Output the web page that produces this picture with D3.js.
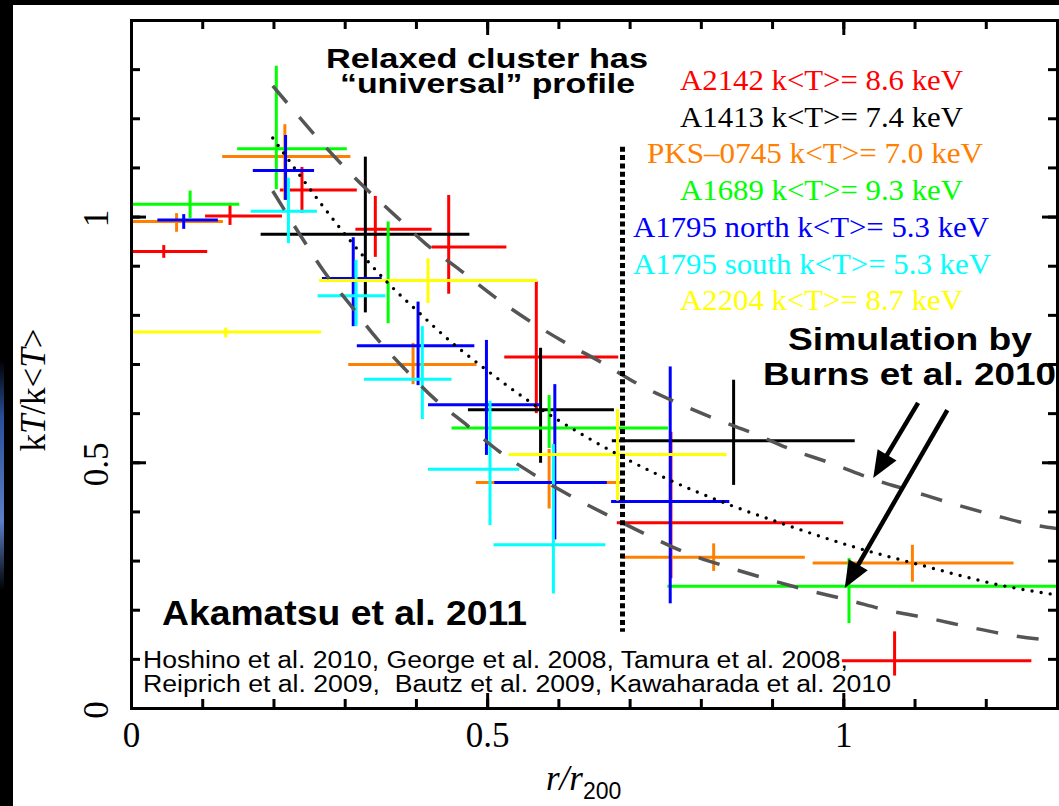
<!DOCTYPE html>
<html><head><meta charset="utf-8">
<script src="https://cdn.jsdelivr.net/npm/d3@7"></script>
<style>
html,body{margin:0;padding:0;background:#fff;}
svg{display:block;}
</style></head><body>
<svg id="chart" width="1059" height="806"></svg>
<script>
// ---- cluster list ----
const clusterNames = ["A2142", "A1413", "PKS\u20130745", "A1689", "A1795 north", "A1795 south", "A2204"];
const meanKT = ["8.6", "7.4", "7.0", "9.3", "5.3", "5.3", "8.7"];
const clusterColors = ["#ff0000", "#000000", "#ff8000", "#00ff00", "#0000ff", "#00ffff", "#ffff00"];

// ---- temperature profiles: [r, rLow, rHigh, T, TLow, THigh] (r in r200, T in <T>) ----
const a2142 = [
  [0.046, 0.000, 0.107, 0.929, 0.916, 0.942],
  [0.139, 0.104, 0.212, 1.001, 0.983, 1.026],
  [0.240, 0.209, 0.317, 1.054, 1.008, 1.101],
  [0.343, 0.315, 0.422, 0.974, 0.918, 1.042],
  [0.446, 0.422, 0.527, 0.938, 0.843, 1.044],
  [0.569, 0.524, 0.684, 0.714, 0.600, 0.868],
  [0.758, 0.682, 1.000, 0.377, 0.264, 0.562],
  [1.072, 0.998, 1.264, 0.096, 0.066, 0.156]
];
const a1413 = [
  [0.329, 0.182, 0.475, 0.964, 0.805, 1.122],
  [0.575, 0.473, 0.678, 0.607, 0.499, 0.733],
  [0.846, 0.675, 1.016, 0.544, 0.454, 0.668]
];
const pks0745 = [
  [0.064, 0.000, 0.129, 0.990, 0.969, 1.007],
  [0.216, 0.128, 0.308, 1.122, 1.034, 1.188],
  [0.396, 0.305, 0.485, 0.699, 0.659, 0.743],
  [0.587, 0.484, 0.690, 0.459, 0.406, 0.527],
  [0.818, 0.689, 0.946, 0.307, 0.279, 0.335],
  [1.097, 0.957, 1.239, 0.295, 0.257, 0.332]
];
const a1689 = [
  [0.083, 0.000, 0.152, 1.025, 0.997, 1.053],
  [0.204, 0.149, 0.303, 1.138, 1.056, 1.307],
  [0.361, 0.300, 0.460, 0.870, 0.783, 0.990],
  [0.587, 0.450, 0.754, 0.570, 0.529, 0.637],
  [1.008, 0.753, 1.300, 0.248, 0.173, 0.305]
];
const a1795n = [
  [0.074, 0.037, 0.122, 0.993, 0.975, 1.005],
  [0.217, 0.171, 0.257, 1.094, 1.034, 1.166],
  [0.312, 0.268, 0.352, 0.874, 0.777, 0.958],
  [0.403, 0.317, 0.482, 0.737, 0.657, 0.827],
  [0.499, 0.417, 0.574, 0.617, 0.515, 0.749],
  [0.595, 0.510, 0.668, 0.459, 0.343, 0.659],
  [0.757, 0.674, 0.840, 0.420, 0.213, 0.695]
];
const a1795s = [
  [0.221, 0.168, 0.261, 1.011, 0.946, 1.079],
  [0.316, 0.262, 0.357, 0.839, 0.777, 0.912],
  [0.409, 0.327, 0.450, 0.669, 0.588, 0.777],
  [0.504, 0.417, 0.545, 0.486, 0.372, 0.625],
  [0.593, 0.509, 0.666, 0.332, 0.233, 0.537]
];
const a2204 = [
  [0.133, 0.000, 0.267, 0.765, 0.754, 0.774],
  [0.417, 0.264, 0.570, 0.870, 0.824, 0.915],
  [0.683, 0.530, 0.836, 0.516, 0.422, 0.608]
];
const profiles = [a2142, a1413, pks0745, a1689, a1795n, a1795s, a2204];

// ---- universal model profile (dotted) ----
const modelR = [0.199, 0.291, 0.310, 0.360, 0.401, 0.451, 0.490, 0.560, 0.640, 0.682, 0.794, 0.841, 0.911, 1.019, 1.098, 1.234, 1.300];
const modelT = [1.160, 0.981, 0.947, 0.866, 0.809, 0.743, 0.698, 0.623, 0.551, 0.517, 0.440, 0.413, 0.377, 0.326, 0.295, 0.246, 0.230];

// ---- simulated envelope (dashed), Burns et al. 2010 ----
const simUpperR = [0.199, 0.298, 0.329, 0.371, 0.415, 0.462, 0.510, 0.559, 0.609, 0.662, 0.712, 0.767, 0.821, 0.875, 0.929, 0.985, 1.041, 1.097, 1.153, 1.210, 1.269, 1.300];
const simUpperT = [1.266, 1.103, 1.058, 1.002, 0.943, 0.891, 0.837, 0.788, 0.744, 0.702, 0.659, 0.621, 0.588, 0.558, 0.525, 0.497, 0.466, 0.441, 0.416, 0.393, 0.372, 0.365];
const simLowerR = [0.199, 0.239, 0.271, 0.308, 0.345, 0.385, 0.427, 0.472, 0.517, 0.569, 0.618, 0.671, 0.722, 0.779, 0.835, 0.892, 0.949, 1.006, 1.064, 1.122, 1.182, 1.240, 1.300];
const simLowerT = [1.052, 0.959, 0.888, 0.820, 0.752, 0.689, 0.628, 0.575, 0.522, 0.472, 0.431, 0.391, 0.354, 0.316, 0.288, 0.263, 0.240, 0.220, 0.198, 0.182, 0.163, 0.147, 0.136];

// boundary marker and annotation arrows (data units)
const boundaryR = 0.69, boundaryT = [0.155, 1.142];
const arrowFrom = [[1.105, 0.621], [1.146, 0.606]];
const arrowTo   = [[1.042, 0.468], [1.002, 0.244]];

// ---- axes ----
const xDomain = [0, 1.3], yDomain = [0, 1.4];
const xMajorTicks = [0, 0.5, 1], xTickLabels = ["0", "0.5", "1"];
const yMajorTicks = [0, 0.5, 1], yTickLabels = ["0", "0.5", "1"];
const xMinorTicks = d3.range(0, 14).map(i => +(i * 0.1).toFixed(1));
const yMinorTicks = d3.range(0, 15).map(i => +(i * 0.1).toFixed(1));

const svg = d3.select("#chart");
const W = 1059, H = 806;
const frame = {l: 131, r: 1057, t: 20, b: 708};
const x = d3.scaleLinear().domain(xDomain).range([frame.l, frame.r]);
const y = d3.scaleLinear().domain(yDomain).range([frame.b, frame.t]);

const serif = "'Liberation Serif','Times New Roman',Times,serif";
const sans = "'Liberation Sans',Arial,Helvetica,sans-serif";

svg.append("rect").attr("width", W).attr("height", H).attr("fill", "#fff");

// dark slide margins
svg.append("rect").attr("x", 0).attr("y", 0).attr("width", W).attr("height", 5).attr("fill", "#000");
svg.append("rect").attr("x", 0).attr("y", 0).attr("width", 13).attr("height", H).attr("fill", "#000");
const grad = svg.append("defs").append("linearGradient").attr("id", "glow").attr("x1", 0).attr("x2", 0).attr("y1", 0).attr("y2", 1);
grad.append("stop").attr("offset", "0%").attr("stop-color", "#000");
grad.append("stop").attr("offset", "25%").attr("stop-color", "#2a4f9a");
grad.append("stop").attr("offset", "70%").attr("stop-color", "#5b80c8");
grad.append("stop").attr("offset", "100%").attr("stop-color", "#000");
svg.append("rect").attr("x", 0).attr("y", 360).attr("width", 4).attr("height", 230).attr("fill", "url(#glow)");

// ---- error crosses ----
const plot = svg.append("g");
profiles.forEach((pts, i) => {
  const g = plot.append("g").attr("stroke", clusterColors[i]).attr("stroke-width", 3).attr("fill", "none");
  g.selectAll("line.h").data(pts).join("line").attr("class", "h")
    .attr("x1", d => x(d[1])).attr("x2", d => x(d[2]))
    .attr("y1", d => y(d[3])).attr("y2", d => y(d[3]));
  g.selectAll("line.v").data(pts).join("line").attr("class", "v")
    .attr("x1", d => x(d[0])).attr("x2", d => x(d[0]))
    .attr("y1", d => y(d[4])).attr("y2", d => y(d[5]));
});

// ---- curves ----
const line = d3.line().x(d => x(d[0])).y(d => y(d[1])).curve(d3.curveMonotoneX);
const zip = (a, b) => a.map((v, i) => [v, b[i]]);
[[simUpperR, simUpperT], [simLowerR, simLowerT]].forEach(([r, t]) => {
  plot.append("path").attr("d", line(zip(r, t)))
    .attr("fill", "none").attr("stroke", "#555").attr("stroke-width", 3.5)
    .attr("stroke-dasharray", "22 19");
});
plot.append("path").attr("d", line(zip(modelR, modelT)))
  .attr("fill", "none").attr("stroke", "#000").attr("stroke-width", 3.4)
  .attr("stroke-linecap", "round").attr("stroke-dasharray", "0 9.2");

// boundary marker
plot.append("line")
  .attr("x1", x(boundaryR)).attr("x2", x(boundaryR))
  .attr("y1", y(boundaryT[1])).attr("y2", y(boundaryT[0]))
  .attr("stroke", "#000").attr("stroke-width", 5).attr("stroke-dasharray", "5 3.3");

// arrows
arrowFrom.forEach((f, i) => {
  const p0 = [x(f[0]), y(f[1])], p1 = [x(arrowTo[i][0]), y(arrowTo[i][1])];
  const dx = p1[0] - p0[0], dy = p1[1] - p0[1], len = Math.hypot(dx, dy);
  const u = [dx / len, dy / len], n = [-u[1], u[0]];
  const headL = 27, headW = 11;
  const b = [p1[0] - u[0] * headL, p1[1] - u[1] * headL];
  plot.append("line").attr("x1", p0[0]).attr("y1", p0[1])
    .attr("x2", b[0] + u[0] * 3).attr("y2", b[1] + u[1] * 3)
    .attr("stroke", "#000").attr("stroke-width", 4.5);
  plot.append("path")
    .attr("d", `M${p1[0]},${p1[1]}L${b[0] + n[0] * headW},${b[1] + n[1] * headW}L${b[0] - n[0] * headW},${b[1] - n[1] * headW}Z`)
    .attr("fill", "#000");
});

// ---- axes, ticks inward on all four sides ----
function styleAxis(g) {
  g.selectAll("path.domain").attr("stroke", "#000").attr("stroke-width", 3).attr("stroke-linecap", "square");
  g.selectAll(".tick line").attr("stroke", "#000").attr("stroke-width", 3);
}
const axes = svg.append("g");
const mk = (fn, scale, vals, size) => fn(scale).tickValues(vals).tickSize(-size).tickSizeOuter(0).tickFormat("");
[[d3.axisBottom, x, `translate(0,${frame.b})`, xMinorTicks, xMajorTicks],
 [d3.axisTop, x, `translate(0,${frame.t})`, xMinorTicks, xMajorTicks],
 [d3.axisLeft, y, `translate(${frame.l},0)`, yMinorTicks, yMajorTicks],
 [d3.axisRight, y, `translate(${frame.r},0)`, yMinorTicks, yMajorTicks]].forEach(([fn, sc, tr, minor, major]) => {
  axes.append("g").attr("transform", tr).call(mk(fn, sc, minor, 9)).call(styleAxis);
  axes.append("g").attr("transform", tr).call(mk(fn, sc, major, 15)).call(styleAxis);
});

// x tick labels
axes.append("g").attr("transform", `translate(0,${frame.b})`)
  .call(d3.axisBottom(x).tickValues(xMajorTicks).tickSize(0).tickPadding(14)
    .tickFormat((d, i) => xTickLabels[i]))
  .call(g => g.select(".domain").remove())
  .selectAll("text").attr("font-family", serif).attr("font-size", 35).attr("fill", "#000");

// y tick labels (rotated)
axes.append("g").selectAll("text").data(yMajorTicks).join("text")
  .attr("transform", d => `translate(108,${y(d) + 2}) rotate(-90)`)
  .attr("text-anchor", "middle").attr("font-family", serif).attr("font-size", 35)
  .text((d, i) => yTickLabels[i]);

// axis titles
const yt = svg.append("text").attr("transform", "translate(45,390) rotate(-90)")
  .attr("text-anchor", "middle").attr("font-family", serif).attr("font-size", 35);
yt.append("tspan").text("k");
yt.append("tspan").attr("font-style", "italic").text("T");
yt.append("tspan").text("/k<");
yt.append("tspan").attr("font-style", "italic").text("T");
yt.append("tspan").text(">");

const xt = svg.append("text").attr("x", 546).attr("y", 790).attr("font-family", serif).attr("font-size", 35);
xt.append("tspan").attr("font-style", "italic").text("r/r");
xt.append("tspan").attr("font-family", sans).attr("font-size", 23).attr("dy", 9).text("200");

// ---- legend ----
const legendX = [680, 680, 647, 680, 633, 633, 680];
const legendW = [283, 283, 336, 283, 356, 358, 283];
svg.append("g").selectAll("text").data(clusterNames).join("text")
  .attr("x", (d, i) => legendX[i]).attr("y", (d, i) => 90 + i * 36.7)
  .attr("textLength", (d, i) => legendW[i]).attr("lengthAdjust", "spacingAndGlyphs")
  .attr("font-family", serif).attr("font-size", 30)
  .attr("fill", (d, i) => clusterColors[i])
  .text((d, i) => `${d} k<T>= ${meanKT[i]} keV`);

// ---- annotations ----
const notes = [
  {t: "Relaxed cluster has", x: 326, y: 68, s: 28, w: 322, b: true},
  {t: "\u201cuniversal\u201d profile", x: 340, y: 93, s: 28, w: 295, b: true},
  {t: "Simulation by", x: 788, y: 350, s: 32, w: 244, b: true},
  {t: "Burns et al. 2010", x: 763, y: 385, s: 32, w: 293, b: true},
  {t: "Akamatsu et al. 2011", x: 162, y: 625, s: 35, w: 365, b: true},
  {t: "Hoshino et al. 2010, George et al. 2008, Tamura et al. 2008,", x: 143, y: 668, s: 23, w: 705, b: false},
  {t: "Reiprich et al. 2009,  Bautz et al. 2009, Kawaharada et al. 2010", x: 143, y: 692, s: 23, w: 748, b: false}
];
svg.append("g").selectAll("text").data(notes).join("text")
  .attr("x", d => d.x).attr("y", d => d.y)
  .attr("font-family", sans).attr("font-size", d => d.s)
  .attr("font-weight", d => d.b ? "bold" : "normal")
  .attr("textLength", d => d.w).attr("lengthAdjust", "spacingAndGlyphs")
  .style("white-space", "pre")
  .attr("fill", "#000").text(d => d.t);
</script>
</body></html>
